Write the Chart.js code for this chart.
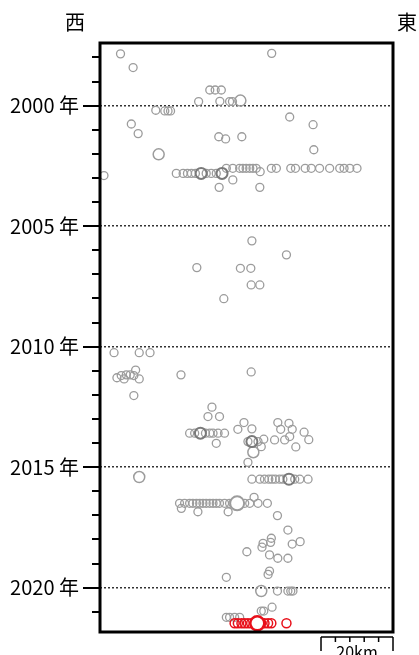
<!DOCTYPE html>
<html>
<head>
<meta charset="utf-8">
<script src="https://cdn.jsdelivr.net/npm/chart.js@4.4.1/dist/chart.umd.min.js"></script>
<style>
html,body{margin:0;padding:0;background:#fff;}
#wrap{position:relative;width:419px;height:655px;overflow:hidden;}
canvas{display:block;}
</style>
</head>
<body>
<div id="wrap"><canvas id="c" width="419" height="655"></canvas></div>
<script>
// ---- data (x: km from western edge, y: decimal year) ----
const xRangeKm = [0, 81.4];
const yRange = [1997.4, 2021.84];
const majorYears = [2000, 2005, 2010, 2015, 2020];
const majorLabels = ['2000 年', '2005 年', '2010 年', '2015 年', '2020 年'];
const minorYears = [1998, 1999, 2001, 2002, 2003, 2004, 2006, 2007, 2008, 2009, 2011, 2012, 2013, 2014, 2016, 2017, 2018, 2019, 2021];
const directionLabels = ['西', '東'];
const scaleBarKm = 20;
const scaleBarLabel = '20km';

const greyX = [
  5.7, 47.7, 9.2,
  30.5, 32.0, 33.7,
  27.4, 33.3, 36.0, 36.8,
  15.5, 18.0, 18.9, 19.6,
  52.7, 59.2, 8.7, 10.6, 33.0, 34.9, 39.4, 59.4,
  1.1,
  21.2, 23.1, 24.3, 25.4, 26.5, 29.5, 30.9, 32.3,
  35.1, 36.9, 38.8, 39.7, 40.6, 41.6, 42.5, 43.4, 47.6, 49.0, 53.0, 54.3, 57.0, 58.7, 61.0, 63.8, 66.6, 67.8, 69.4, 71.4,
  44.5, 36.9, 33.1, 44.4,
  42.2, 51.8, 26.9, 39.0, 41.9, 42.0, 44.4, 34.4,
  3.9, 10.9, 13.9, 9.9,
  4.7, 5.9, 6.7, 7.3, 8.4, 9.4, 10.9,
  22.5, 42.0, 9.4,
  31.1, 30.0, 33.2,
  24.9, 26.3, 29.3, 30.5, 31.4, 32.8, 34.6, 32.3,
  40.0, 38.3, 42.2, 49.4, 52.5, 50.2, 53.4, 56.7, 58.0, 52.7, 51.3, 48.5, 54.4,
  41.1, 43.9, 44.8, 45.5, 41.1,
  42.2, 44.4, 45.7, 46.9, 47.8, 48.7, 49.9, 50.8, 54.1, 55.5, 57.8,
  22.1, 23.5, 24.9, 25.8, 26.8, 27.7, 28.6, 29.5, 30.5, 31.4, 32.3, 33.2, 34.6, 36.0, 36.9, 40.2, 41.6, 43.9, 46.5,
  42.8, 22.6, 27.2, 35.6, 49.3,
  52.2, 47.6, 47.4, 45.3, 45.0, 53.4, 55.6, 40.8, 47.1, 49.4, 52.2,
  47.1, 46.7, 35.1,
  49.3, 52.2, 53.0, 53.6,
  47.8, 44.8, 45.5,
  35.1, 36.0, 37.4, 38.8
];
const greyY = [
  1997.85, 1997.83, 1998.42,
  1999.35, 1999.35, 1999.35,
  1999.83, 1999.82, 1999.83, 1999.83,
  2000.19, 2000.22, 2000.22, 2000.22,
  2000.47, 2000.79, 2000.76, 2001.16, 2001.29, 2001.38, 2001.29, 2001.83,
  2002.90,
  2002.81, 2002.81, 2002.81, 2002.81, 2002.81, 2002.81, 2002.81, 2002.81,
  2002.60, 2002.60, 2002.60, 2002.60, 2002.60, 2002.60, 2002.60, 2002.60, 2002.60, 2002.60, 2002.60, 2002.60, 2002.60, 2002.60, 2002.60, 2002.60, 2002.60, 2002.60, 2002.60, 2002.60,
  2002.74, 2003.08, 2003.39, 2003.39,
  2005.61, 2006.19, 2006.72, 2006.75, 2006.75, 2007.44, 2007.44, 2008.01,
  2010.25, 2010.25, 2010.25, 2010.97,
  2011.29, 2011.20, 2011.34, 2011.17, 2011.17, 2011.20, 2011.34,
  2011.17, 2011.05, 2012.03,
  2012.51, 2012.90, 2012.90,
  2013.59, 2013.59, 2013.59, 2013.59, 2013.59, 2013.59, 2013.59, 2014.01,
  2013.15, 2013.43, 2013.41, 2013.15, 2013.18, 2013.43, 2013.43, 2013.55, 2013.86, 2013.73, 2013.87, 2013.87, 2014.16,
  2013.94, 2013.94, 2014.15, 2013.84, 2014.80,
  2015.50, 2015.50, 2015.50, 2015.50, 2015.50, 2015.50, 2015.50, 2015.50, 2015.50, 2015.50, 2015.50,
  2016.50, 2016.50, 2016.50, 2016.50, 2016.50, 2016.50, 2016.50, 2016.50, 2016.50, 2016.50, 2016.50, 2016.50, 2016.50, 2016.50, 2016.50, 2016.50, 2016.50, 2016.50, 2016.50,
  2016.25, 2016.71, 2016.85, 2016.85, 2017.01,
  2017.61, 2017.95, 2018.12, 2018.16, 2018.32, 2018.19, 2018.09, 2018.51, 2018.64, 2018.78, 2018.78,
  2019.31, 2019.45, 2019.57,
  2020.14, 2020.14, 2020.14, 2020.14,
  2020.81, 2020.97, 2020.97,
  2021.23, 2021.23, 2021.23, 2021.23
];
const greyLargeX = [39.0, 16.3, 42.6, 10.9, 44.8];
const greyLargeY = [1999.79, 2002.02, 2014.38, 2015.41, 2020.14];
const darkLargeX = [28.1, 33.9, 27.9, 42.2, 52.5];
const darkLargeY = [2002.81, 2002.81, 2013.59, 2013.94, 2015.50];
const greyMainX = [38.1];
const greyMainY = [2016.50];
const redX = [37.4, 38.3, 39.3, 40.2, 41.1, 42.0, 43.0, 44.8, 45.7, 46.7, 47.6, 51.8];
const redY = [2021.48, 2021.48, 2021.48, 2021.48, 2021.48, 2021.48, 2021.48, 2021.48, 2021.48, 2021.48, 2021.48, 2021.48];
const redMainX = [43.7];
const redMainY = [2021.48];

const pts = (xs, ys) => xs.map((x, i) => ({x: x, y: ys[i]}));
const GREY = '#9c9c9c';
const DARK = '#7a7a7a';
const RED = '#e8101a';
const JP = '"Noto Sans CJK JP", "Noto Sans", sans-serif';

const decorPlugin = {
  id: 'decor',
  afterDraw(chart) {
    const ctx = chart.ctx;
    const a = chart.chartArea;
    const ys = chart.scales.y, xs = chart.scales.x;
    ctx.save();
    // year ticks
    ctx.strokeStyle = '#000';
    ctx.lineWidth = 2;
    ctx.beginPath();
    minorYears.forEach(v => { const p = Math.round(ys.getPixelForValue(v)); ctx.moveTo(a.left - 8, p); ctx.lineTo(a.left, p); });
    majorYears.forEach(v => { const p = Math.round(ys.getPixelForValue(v)); ctx.moveTo(a.left - 17, p); ctx.lineTo(a.left, p); });
    ctx.stroke();
    // frame
    ctx.lineWidth = 3;
    ctx.strokeRect(a.left, a.top, a.right - a.left, a.bottom - a.top);
    // direction labels
    ctx.fillStyle = '#000';
    ctx.font = '20px ' + JP;
    ctx.textAlign = 'center';
    ctx.textBaseline = 'middle';
    ctx.fillText(directionLabels[0], 75, 22);
    ctx.fillText(directionLabels[1], 407, 22);
    // scale bar
    const x1 = xs.getPixelForValue(xRangeKm[1] - scaleBarKm);
    const x2 = xs.getPixelForValue(xRangeKm[1]);
    const yb = a.bottom + 5;
    ctx.lineWidth = 1.5;
    ctx.beginPath();
    ctx.moveTo(x1, yb); ctx.lineTo(x2, yb);
    ctx.moveTo(x1, yb); ctx.lineTo(x1, yb + 14);
    ctx.moveTo(x2, yb); ctx.lineTo(x2, yb + 14);
    for (let k = 1; k < 5; k++) {
      const xx = xs.getPixelForValue(xRangeKm[1] - scaleBarKm + k * scaleBarKm / 5);
      ctx.moveTo(xx, yb); ctx.lineTo(xx, yb + 5);
    }
    ctx.stroke();
    ctx.font = '16px ' + JP;
    ctx.textBaseline = 'top';
    ctx.fillText(scaleBarLabel, (x1 + x2) / 2, yb + 7);
    ctx.restore();
  }
};

new Chart(document.getElementById('c'), {
  type: 'scatter',
  data: {
    datasets: [
      {data: pts(redMainX, redMainY), order: 0, pointRadius: 7, pointBorderWidth: 2.5, borderColor: RED, backgroundColor: '#fff'},
      {data: pts(redX, redY), order: 1, pointRadius: 4.5, pointBorderWidth: 1.5, borderColor: RED, backgroundColor: 'rgba(0,0,0,0)'},
      {data: pts(greyMainX, greyMainY), order: 2, pointRadius: 7, pointBorderWidth: 2, borderColor: GREY, backgroundColor: '#fff'},
      {data: pts(darkLargeX, darkLargeY), order: 3, pointRadius: 5.5, pointBorderWidth: 2, borderColor: DARK, backgroundColor: 'rgba(0,0,0,0)'},
      {data: pts(greyLargeX, greyLargeY), order: 4, pointRadius: 5.5, pointBorderWidth: 1.5, borderColor: GREY, backgroundColor: 'rgba(0,0,0,0)'},
      {data: pts(greyX, greyY), order: 5, pointRadius: 4, pointBorderWidth: 1.3, borderColor: GREY, backgroundColor: 'rgba(0,0,0,0)'}
    ]
  },
  options: {
    responsive: false,
    devicePixelRatio: 1,
    animation: false,
    layout: {padding: {top: 43, right: 26, bottom: 23, left: 0}},
    plugins: {legend: {display: false}, tooltip: {enabled: false}, title: {display: false}},
    scales: {
      x: {
        type: 'linear', display: false, min: xRangeKm[0], max: xRangeKm[1]
      },
      y: {
        type: 'linear', reverse: true, min: yRange[0], max: yRange[1],
        afterBuildTicks: (s) => { s.ticks = majorYears.map(v => ({value: v})); },
        afterFit: (s) => { s.width = 100; s.paddingTop = 0; s.paddingBottom = 0; },
        ticks: {
          padding: 21, color: '#000', font: {size: 20, family: JP},
          callback: (v) => { const i = majorYears.indexOf(v); return i >= 0 ? majorLabels[i] : ''; }
        },
        grid: {drawTicks: false, color: '#333', lineWidth: 1.5},
        border: {display: false, dash: [2, 2]}
      }
    }
  },
  plugins: [decorPlugin]
});
</script>
</body>
</html>
